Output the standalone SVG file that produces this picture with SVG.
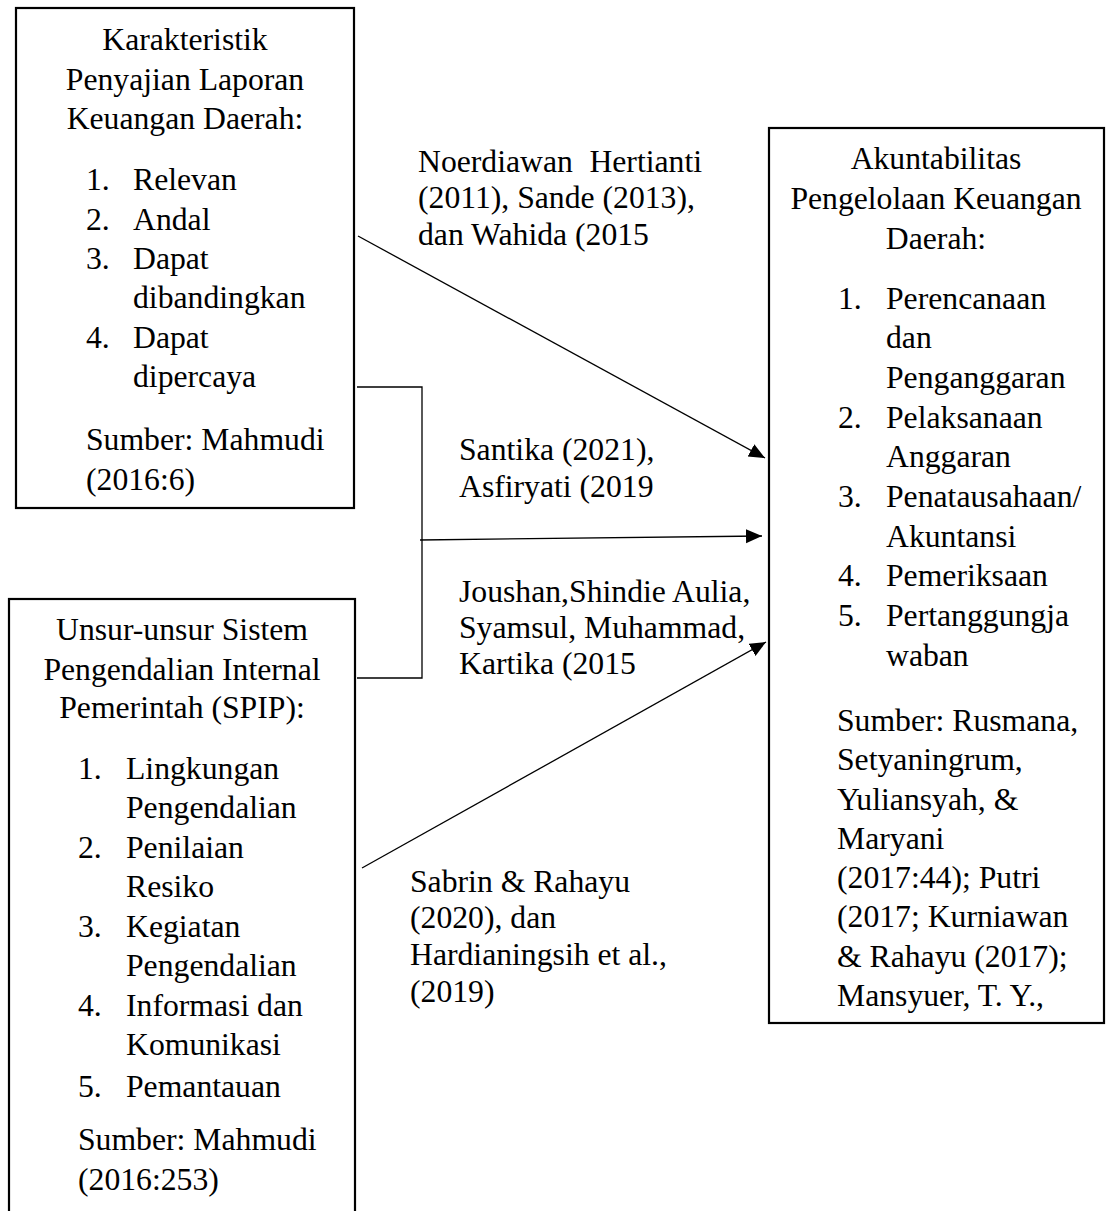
<svg xmlns="http://www.w3.org/2000/svg" width="1106" height="1211" viewBox="0 0 1106 1211">
<style>
text{font-family:"Liberation Serif","Times New Roman",serif;font-size:31.7px;fill:#000}
.box{fill:#fff;stroke:#000;stroke-width:2.2}
.c{text-anchor:middle}
.conn{fill:none;stroke:#000;stroke-width:1.3}
</style>
<defs>
<marker id="ah" markerUnits="userSpaceOnUse" markerWidth="17" markerHeight="15" refX="16" refY="7" orient="auto">
<path d="M0,0 L16,7 L0,14 z" fill="#000"/>
</marker>
</defs>
<rect width="1106" height="1211" fill="#fff"/>
<g id="connectors">
<line class="conn" x1="358" y1="236" x2="765" y2="458" marker-end="url(#ah)"/>
<polyline class="conn" points="357,387 422,387 422,678 357,678"/>
<line class="conn" x1="420" y1="540" x2="762" y2="536" marker-end="url(#ah)"/>
<line class="conn" x1="362" y1="868" x2="766" y2="642" marker-end="url(#ah)"/>
</g>
<g id="node-karakteristik">
<rect class="box" x="16" y="8" width="338" height="500"/>
<text class="c" x="185" y="50">Karakteristik</text>
<text class="c" x="185" y="90">Penyajian Laporan</text>
<text class="c" x="185" y="129">Keuangan Daerah:</text>
<text x="86" y="190">1.</text><text x="133" y="190">Relevan</text>
<text x="86" y="230">2.</text><text x="133" y="230">Andal</text>
<text x="86" y="269">3.</text><text x="133" y="269">Dapat</text>
<text x="133" y="308">dibandingkan</text>
<text x="86" y="348">4.</text><text x="133" y="348">Dapat</text>
<text x="133" y="387">dipercaya</text>
<text x="86" y="450">Sumber: Mahmudi</text>
<text x="86" y="490">(2016:6)</text>
</g>
<g id="node-spip">
<rect class="box" x="9" y="599" width="346" height="640"/>
<text class="c" x="182" y="640">Unsur-unsur Sistem</text>
<text class="c" x="182" y="680">Pengendalian Internal</text>
<text class="c" x="182" y="718">Pemerintah (SPIP):</text>
<text x="78" y="779">1.</text><text x="126" y="779">Lingkungan</text>
<text x="126" y="818">Pengendalian</text>
<text x="78" y="858">2.</text><text x="126" y="858">Penilaian</text>
<text x="126" y="897">Resiko</text>
<text x="78" y="937">3.</text><text x="126" y="937">Kegiatan</text>
<text x="126" y="976">Pengendalian</text>
<text x="78" y="1016">4.</text><text x="126" y="1016">Informasi dan</text>
<text x="126" y="1055">Komunikasi</text>
<text x="78" y="1097">5.</text><text x="126" y="1097">Pemantauan</text>
<text x="78" y="1150">Sumber: Mahmudi</text>
<text x="78" y="1190">(2016:253)</text>
</g>
<g id="node-akuntabilitas">
<rect class="box" x="769" y="128" width="335" height="895"/>
<text class="c" x="936" y="169">Akuntabilitas</text>
<text class="c" x="936" y="209">Pengelolaan Keuangan</text>
<text class="c" x="936" y="249">Daerah:</text>
<text x="838" y="309">1.</text><text x="886" y="309">Perencanaan</text>
<text x="886" y="348">dan</text>
<text x="886" y="388">Penganggaran</text>
<text x="838" y="428">2.</text><text x="886" y="428">Pelaksanaan</text>
<text x="886" y="467">Anggaran</text>
<text x="838" y="507">3.</text><text x="886" y="507">Penatausahaan/</text>
<text x="886" y="547">Akuntansi</text>
<text x="838" y="586">4.</text><text x="886" y="586">Pemeriksaan</text>
<text x="838" y="626">5.</text><text x="886" y="626">Pertanggungja</text>
<text x="886" y="666">waban</text>
<text x="837" y="731">Sumber: Rusmana,</text>
<text x="837" y="770">Setyaningrum,</text>
<text x="837" y="810">Yuliansyah, &amp;</text>
<text x="837" y="849">Maryani</text>
<text x="837" y="888">(2017:44); Putri</text>
<text x="837" y="927">(2017; Kurniawan</text>
<text x="837" y="967">&amp; Rahayu (2017);</text>
<text x="837" y="1006">Mansyuer, T. Y.,</text>
</g>
<g id="labels">
<text><tspan x="418" y="172">Noerdiawan</tspan><tspan x="702" y="172" text-anchor="end">Hertianti</tspan></text>
<text x="418" y="208">(2011), Sande (2013),</text>
<text x="418" y="245">dan Wahida (2015</text>
<text x="459" y="460">Santika (2021),</text>
<text x="459" y="497">Asfiryati (2019</text>
<text x="459" y="602">Joushan,Shindie Aulia,</text>
<text x="459" y="638">Syamsul, Muhammad,</text>
<text x="459" y="674">Kartika (2015</text>
<text x="410" y="892">Sabrin &amp; Rahayu</text>
<text x="410" y="928">(2020), dan</text>
<text x="410" y="965">Hardianingsih et al.,</text>
<text x="410" y="1002">(2019)</text>
</g>
</svg>
